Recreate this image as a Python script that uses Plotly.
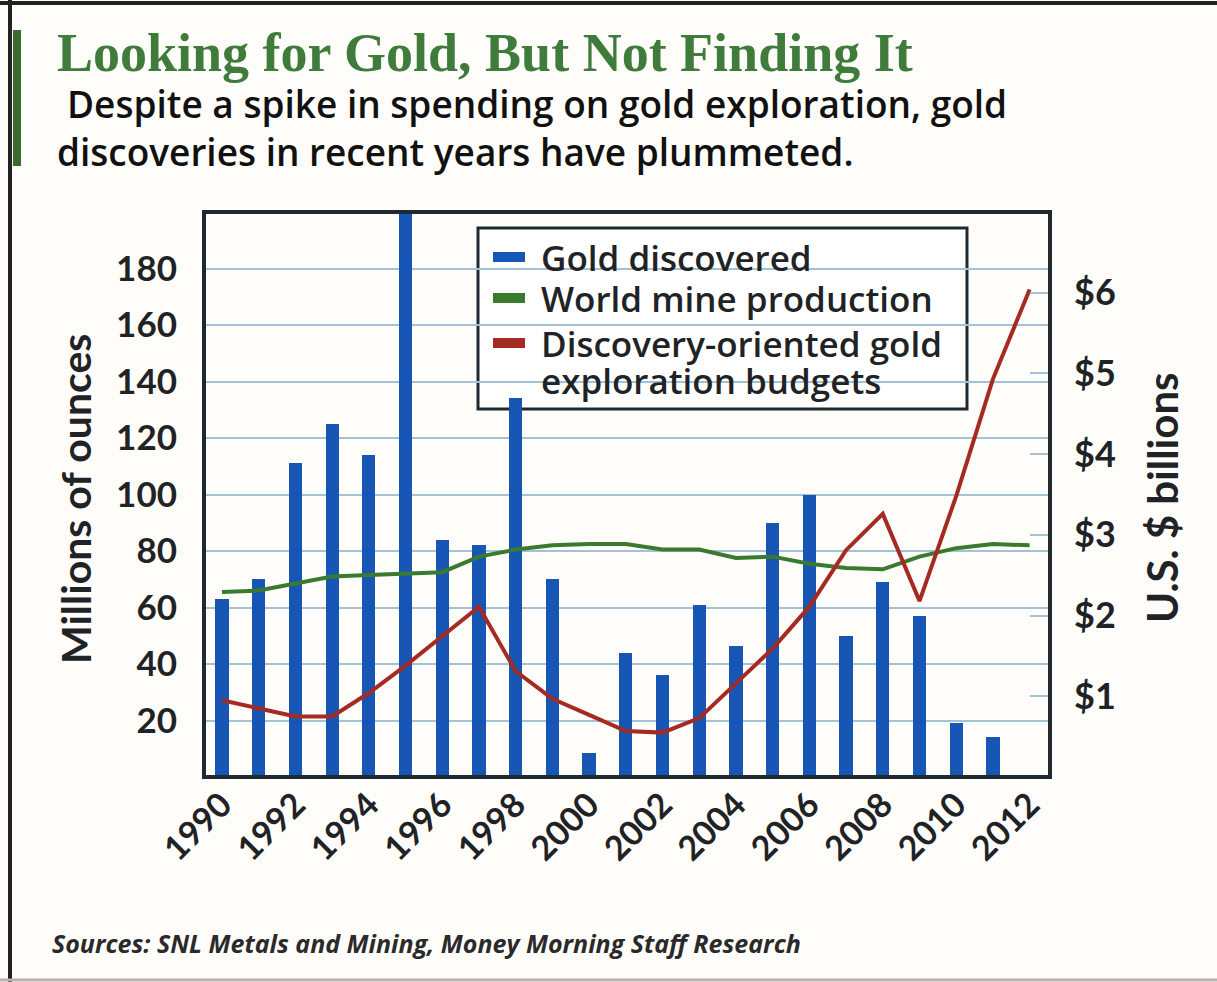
import plotly.graph_objects as go

# ---------------- data ----------------
bar_years = list(range(1990, 2012))
gold_discovered = [63, 70, 111, 125, 114, 215, 84, 82, 134, 70, 8.5, 44, 36, 61, 46.5, 90, 100, 50, 69, 57, 19, 14]

line_years = list(range(1990, 2013))
world_mine_production = [65.5, 66, 68.5, 71, 71.5, 72, 72.5, 78, 80.5, 82, 82.5, 82.5, 80.5, 80.5, 77.5, 78, 75.5, 74, 73.5, 78, 81, 82.5, 82]
exploration_budgets = [0.95, 0.85, 0.75, 0.75, 1.04, 1.38, 1.74, 2.11, 1.31, 0.97, 0.77, 0.57, 0.55, 0.73, 1.16, 1.59, 2.11, 2.81, 3.26, 2.18, 3.48, 4.93, 6.04]

left_ticks = [20, 40, 60, 80, 100, 120, 140, 160, 180]
right_ticks = [1, 2, 3, 4, 5, 6]
right_ticktext = ["$1", "$2", "$3", "$4", "$5", "$6"]
x_ticks = list(range(1990, 2013, 2))

legend_labels = ["Gold discovered", "World mine production", "Discovery-oriented gold", "exploration budgets"]

# ---------------- layout geometry (pixels) ----------------
FW, FH = 1217, 982
L, R, T, B = 204, 1050, 212, 777
W, H = R - L, B - T


def px(x):
    return (x - L) / W


def py(y):
    return (B - y) / H


BLUE = "#1756b4"
GREEN = "#3a7a2e"
RED = "#a52a22"
GRID = "#a3c2d6"
TXT = "#1f2326"
BG = "#fffdfa"
SANS = "Lato"
WIDE = "Open Sans"

fig = go.Figure()
fig.add_trace(go.Bar(x=bar_years, y=gold_discovered, width=0.36, marker=dict(color=BLUE, line=dict(width=0)),
                     name="Gold discovered", showlegend=False))
fig.add_trace(go.Scatter(x=line_years, y=world_mine_production, mode="lines", line=dict(color=GREEN, width=4),
                         name="World mine production", showlegend=False))
fig.add_trace(go.Scatter(x=line_years, y=exploration_budgets, mode="lines", line=dict(color=RED, width=4),
                         name="Discovery-oriented gold exploration budgets", yaxis="y2", showlegend=False))

fig.update_layout(
    width=FW, height=FH,
    margin=dict(l=L, r=FW - R, t=T, b=FH - B, pad=0),
    paper_bgcolor=BG, plot_bgcolor=BG,
    bargap=0,
    xaxis=dict(range=[1989.51, 2012.555], tickmode="array", tickvals=x_ticks, tickangle=-45,
               tickfont=dict(family=SANS, size=34, color=TXT, weight="bold"),
               showgrid=False, zeroline=False, showline=False, ticks=""),
    yaxis=dict(range=[0, 200], tickmode="array", tickvals=left_ticks,
               tickfont=dict(family=SANS, size=35, color=TXT, weight="bold"),
               showgrid=True, gridcolor=GRID, gridwidth=2, zeroline=False, showline=False, ticks="",
               ticklabelstandoff=26),
    yaxis2=dict(range=[0, 7], overlaying="y", side="right", tickmode="array", tickvals=right_ticks,
                ticktext=right_ticktext, ticks="inside", ticklen=20, tickwidth=2, tickcolor=GRID,
                tickfont=dict(family=SANS, size=36, color=TXT, weight="bold"),
                showgrid=False, zeroline=False, showline=False, ticklabelstandoff=23),
)

shapes = []
# plot frame
shapes.append(dict(type="rect", xref="paper", yref="paper", x0=0, x1=1, y0=0, y1=1,
                   line=dict(color="#1e2a30", width=4), layer="above"))
# legend box
shapes.append(dict(type="rect", xref="paper", yref="paper", x0=px(478), x1=px(967), y0=py(409), y1=py(228),
                   line=dict(color="#1e2a30", width=3), fillcolor="white", layer="between"))
for yc, col in [(257, BLUE), (298, GREEN), (343, RED)]:
    shapes.append(dict(type="rect", xref="paper", yref="paper", x0=px(493), x1=px(525), y0=py(yc + 5), y1=py(yc - 5),
                       line=dict(width=0), fillcolor=col, layer="between"))
# outer border
shapes.append(dict(type="line", xref="paper", yref="paper", x0=px(0), x1=px(FW), y0=py(3), y1=py(3),
                   line=dict(color="#222222", width=4)))
shapes.append(dict(type="line", xref="paper", yref="paper", x0=px(10), x1=px(10), y0=py(0), y1=py(FH),
                   line=dict(color="#222222", width=4)))
shapes.append(dict(type="line", xref="paper", yref="paper", x0=px(0), x1=px(FW), y0=py(980), y1=py(980),
                   line=dict(color="#b8b2ae", width=3)))
# green accent bar
shapes.append(dict(type="rect", xref="paper", yref="paper", x0=px(13), x1=px(21), y0=py(166), y1=py(30),
                   line=dict(width=0), fillcolor="#3b6b2f"))
fig.update_layout(shapes=shapes)

ann = []
ann.append(dict(text="<b>Looking for Gold, But Not Finding It</b>", x=px(55), y=py(53), xref="paper", yref="paper",
                xanchor="left", yanchor="middle", showarrow=False,
                font=dict(family="Liberation Serif", size=54, color="#3f7b3b")))
ann.append(dict(text="Despite a spike in spending on gold exploration, gold", x=px(65), y=py(103), xref="paper",
                yref="paper", xanchor="left", yanchor="middle", showarrow=False,
                font=dict(family=WIDE, size=37, color="#111111", weight=600)))
ann.append(dict(text="discoveries in recent years have plummeted.", x=px(55), y=py(151), xref="paper",
                yref="paper", xanchor="left", yanchor="middle", showarrow=False,
                font=dict(family=WIDE, size=37, color="#111111", weight=600)))
for yc, lab in zip([257, 298, 343, 380], legend_labels):
    ann.append(dict(text=lab, x=px(539), y=py(yc), xref="paper", yref="paper", xanchor="left", yanchor="middle",
                    showarrow=False, font=dict(family=WIDE, size=35, color=TXT, weight=600)))
ann.append(dict(text="Millions of ounces", x=px(75), y=py(499), xref="paper", yref="paper", textangle=-90,
                xanchor="center", yanchor="middle", showarrow=False,
                font=dict(family=SANS, size=41, color=TXT, weight="bold")))
ann.append(dict(text="U.S. $ billions", x=px(1162), y=py(498), xref="paper", yref="paper", textangle=-90,
                xanchor="center", yanchor="middle", showarrow=False,
                font=dict(family=SANS, size=42, color=TXT, weight="bold")))
ann.append(dict(text="<b><i>Sources: SNL Metals and Mining, Money Morning Staff Research</i></b>", x=px(50), y=py(943),
                xref="paper", yref="paper", xanchor="left", yanchor="middle", showarrow=False,
                font=dict(family=WIDE, size=25, color="#2a2a2a")))
fig.update_layout(annotations=ann)

fig.write_html("out.html")
